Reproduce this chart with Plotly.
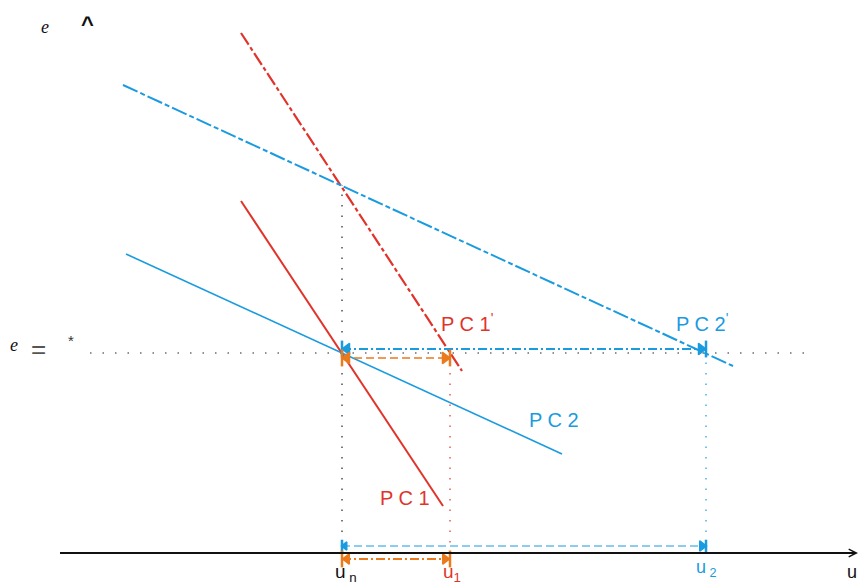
import plotly.graph_objects as go

# ---- data (layout units: x to the right, y upward) ----
u_n, u_1, u_2 = 342, 450, 706           # unemployment levels on the u axis
e_star = 232                            # target inflation level e = *
e_top = 400                             # intersection of the shifted curves
axis_y = 32                             # horizontal axis level
axis_x = [60, 858]

pc1_x, pc1_y = [241, 443], [384, 79]        # PC1 (solid red)
pc2_x, pc2_y = [126, 562], [331, 131]       # PC2 (solid blue)
pc1p_x, pc1p_y = [241, 462], [552, 214]     # PC1' (dashed red)
pc2p_x, pc2p_y = [123, 733], [500, 219]     # PC2' (dash-dot blue)

e_line_x = [90, 815]
arrow_up_blue_y = 236
arrow_up_orange_y = 227
arrow_low_blue_y = 39
arrow_low_orange_y = 26

RED = "#e0342b"
BLUE = "#1a9be0"
ORANGE = "#ea7a1c"
FONT = "Liberation Sans"

fig = go.Figure()

def line(x, y, color, width, dash="solid"):
    fig.add_trace(go.Scatter(x=x, y=y, mode="lines",
                             line=dict(color=color, width=width, dash=dash),
                             hoverinfo="skip", showlegend=False))

def marks(x, y, symbol, color, size, lw=1.5):
    fig.add_trace(go.Scatter(x=x, y=y, mode="markers",
                             marker=dict(symbol=symbol, color=color, size=size,
                                         line=dict(color=color, width=lw)),
                             hoverinfo="skip", showlegend=False))

# guide lines
line(e_line_x, [e_star, e_star], "#222222", 1.2, "1.5px,11px")
line([u_n, u_n], [axis_y, e_top], "#222222", 1.2, "1.5px,9px")
line([u_1, u_1], [axis_y, e_star], RED, 1.2, "1.5px,9px")
line([u_2, u_2], [axis_y, e_star], BLUE, 1.2, "1.5px,9px")

# curves
line(pc1_x, pc1_y, RED, 2)
line(pc2_x, pc2_y, BLUE, 1.6)
line(pc1p_x, pc1p_y, RED, 2.2, "14px,3px,4px,3px")
line(pc2p_x, pc2p_y, BLUE, 2, "16px,3px,5px,3px")

# horizontal arrows at e = *
line([u_n, u_2], [arrow_up_blue_y] * 2, BLUE, 2, "9px,3px,2px,3px")
line([u_n, u_1], [arrow_up_orange_y] * 2, ORANGE, 1.5, "8px,4px")
# arrows on the u axis
line([u_n, u_2], [arrow_low_blue_y] * 2, BLUE, 1, "8px,4px")
line([u_n, u_1], [arrow_low_orange_y] * 2, ORANGE, 2, "9px,3px,2px,3px")

tip = 5
marks([u_n, u_2], [arrow_up_blue_y] * 2, "line-ns", BLUE, 12, 2.5)
marks([u_n + tip], [arrow_up_blue_y], "triangle-left", BLUE, 10)
marks([u_2 - tip], [arrow_up_blue_y], "triangle-right", BLUE, 10)

marks([u_n, u_1], [arrow_up_orange_y] * 2, "line-ns", ORANGE, 12, 2.5)
marks([u_n + tip], [arrow_up_orange_y], "triangle-left", ORANGE, 10)
marks([u_1 - tip], [arrow_up_orange_y], "triangle-right", ORANGE, 10)

marks([u_n, u_2], [arrow_low_blue_y] * 2, "line-ns", BLUE, 9, 2.5)
marks([u_n + 3], [arrow_low_blue_y], "triangle-left", BLUE, 7)
marks([u_2 - 4], [arrow_low_blue_y], "triangle-right", BLUE, 9)

marks([u_n, u_1], [arrow_low_orange_y] * 2, "line-ns", ORANGE, 12, 2.5)
marks([u_n + tip], [arrow_low_orange_y], "triangle-left", ORANGE, 9)
marks([u_1 - tip], [arrow_low_orange_y], "triangle-right", ORANGE, 9)

# horizontal axis with open arrowhead
line([axis_x[0], axis_x[1] - 2], [axis_y, axis_y], "#111111", 2)
fig.add_annotation(x=axis_x[1], y=axis_y, ax=axis_x[1] - 30, ay=axis_y,
                   xref="x", yref="y", axref="x", ayref="y", text="",
                   showarrow=True, arrowhead=5, arrowsize=1, arrowwidth=1.5,
                   arrowcolor="#111111", standoff=0)

def txt(x, y, s, color="#111111", size=20, family=FONT, xanchor="center", yanchor="middle"):
    fig.add_annotation(x=x, y=y, xref="x", yref="y", text=s, showarrow=False,
                       font=dict(family=family, size=size, color=color),
                       xanchor=xanchor, yanchor=yanchor)

SERIF = "Liberation Serif"
txt(45, 558, "<i>e</i>", size=18, family=SERIF)
txt(87, 561, "<b>^</b>", size=22)
txt(14, 240, "<i>e</i>", size=18, family=SERIF)
txt(38, 236, "=", color="#555555", size=26)
txt(71, 245, "*", color="#333333", size=15)

txt(467, 263, "P C 1<sup>'</sup>", RED, 20)
txt(702, 263, "P C 2<sup>'</sup>", BLUE, 20)
txt(554, 165, "P C 2", BLUE, 20)
txt(405, 87, "P C 1", RED, 20)

txt(346, 12, "u<sub> n</sub>", "#111111", 19)
txt(452, 12, "u<sub>1</sub>", RED, 19)
txt(706, 17, "u<sub> 2</sub>", BLUE, 18)
txt(859, 13, "u", "#111111", 18, xanchor="right")

fig.update_layout(
    width=860, height=585,
    margin=dict(l=0, r=0, t=0, b=0),
    paper_bgcolor="white", plot_bgcolor="white",
    xaxis=dict(range=[0, 860], visible=False, fixedrange=True),
    yaxis=dict(range=[0, 585], visible=False, fixedrange=True),
    showlegend=False,
)

fig.write_html("out.html", config={"displayModeBar": False},
               post_script="document.body.style.margin='0';document.body.style.overflow='hidden';")
